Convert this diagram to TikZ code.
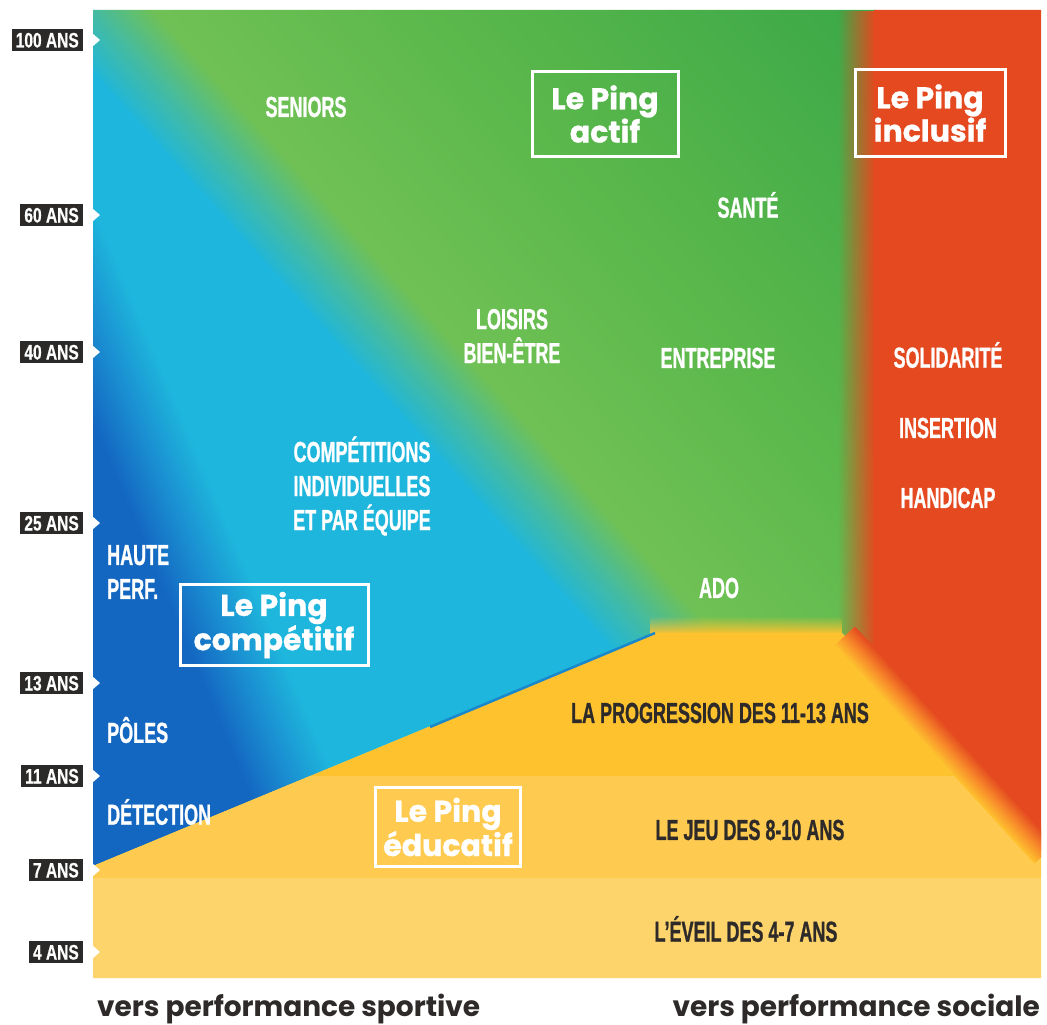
\documentclass[tikz,border=0pt]{standalone}
\usepackage{fontspec}
\usetikzlibrary{positioning,fadings}
\setmainfont{Liberation Sans}
\newfontfamily\tagfont[FakeStretch=0.62,FakeBold=0.8]{Liberation Sans}
\newfontfamily\agefont[FakeStretch=0.74,FakeBold=0.5]{Liberation Sans}
\newfontfamily\pingfont[FakeBold=0.8]{Poppins}
\newfontfamily\axisfont{Poppins}

\definecolor{pingcyan}{HTML}{1EB6DC}
\definecolor{pingblue}{HTML}{1467C1}
\definecolor{pingmidblue}{HTML}{1A8DD1}
\definecolor{pingteal}{HTML}{45BBA0}
\definecolor{pinglight}{HTML}{70C155}
\definecolor{pinggreen}{HTML}{5BB84B}
\definecolor{pingdark}{HTML}{3DA948}
\definecolor{pingred}{HTML}{E4491F}
\definecolor{pingorange}{HTML}{F7882A}
\definecolor{pingyellow}{HTML}{FEC22F}
\definecolor{pingjeu}{HTML}{FECB50}
\definecolor{pingeveil}{HTML}{FDD46B}
\definecolor{pingink}{HTML}{2D2A29}
\definecolor{pingtag}{HTML}{2B2A29}

% shadings across the two diagonals
\pgfdeclareverticalshading{actifshade}{100bp}{color(0bp)=(pingcyan); color(48.27bp)=(pingcyan); color(50bp)=(pingteal); color(51.73bp)=(pinglight); color(59.6bp)=(pinggreen); color(71.5bp)=(pingdark); color(100bp)=(pingdark)}
\pgfdeclareverticalshading{perfshade}{100bp}{color(0bp)=(pingblue); color(47.5bp)=(pingblue); color(50bp)=(pingmidblue); color(52.8bp)=(pingcyan); color(100bp)=(pingcyan)}
\tikzfading[name=redfade, left color=transparent!100, right color=transparent!0]
\tikzfading[name=yellowfade, top color=transparent!100, bottom color=transparent!0]

\begin{document}
\begin{tikzpicture}[x=1pt, y=-1pt,
  zonetext/.style={text=white, font=\tagfont\bfseries\fontsize{29pt}{34pt}\selectfont, inner sep=0pt, align=center},
  darktext/.style={zonetext, text=pingink},
  pingbox/.style={draw=white, line width=3pt, text=white, font=\pingfont\bfseries\fontsize{30pt}{28pt}\selectfont, align=center, inner sep=0pt},
  agetag/.style={fill=pingtag, text=white, font=\agefont\bfseries\fontsize{21pt}{21pt}\selectfont, text height=15pt, text depth=0pt, inner xsep=4pt, inner ysep=3.5pt, anchor=east},
  axistext/.style={text=pingink, font=\axisfont\bfseries\fontsize{28pt}{28pt}\selectfont, inner sep=0pt}]

\useasboundingbox (0,0) rectangle (1047,1025);
\fill[white] (0,0) rectangle (1047,1025);

% le Ping actif / competitif
\begin{scope}
  \clip (93,10) -- (876,10) -- (876,670) -- (842,633) -- (655,633) -- (93,866) -- cycle;
  \begin{scope}[transform canvas={shift={(93,10)}, rotate=-47.95}]
    \shade[shading=actifshade] (-60,-650) rectangle (1000,650);
  \end{scope}
  % haute perf
  \clip (93,70) -- (620,655) -- (620,900) -- (93,900) -- cycle;
  \begin{scope}[transform canvas={shift={(93,320)}, rotate=-67.12}]
    \shade[shading=perfshade] (-400,-400) rectangle (800,400);
  \end{scope}
\end{scope}

% le Ping inclusif
\fill[pingred] (874,10) -- (1041,10) -- (1041,850) -- (874,668) -- cycle;
\begin{scope}
  \clip (838,10) -- (875,10) -- (875,669) -- (842,633) -- (838,633) -- cycle;
  \fill[pingred, path fading=redfade] (838,10) rectangle (875,700);
\end{scope}

% le Ping educatif
\fill[pingyellow] (93,866) -- (655,633) -- (842,633) -- (1041,850) -- (1041,978) -- (93,978) -- cycle;
\begin{scope}
  \clip (93,866) -- (655,633) -- (842,633) -- (1041,850) -- (1041,978) -- (93,978) -- cycle;
  \fill[pingjeu] (93,776) rectangle (1041,878);
\end{scope}
\fill[pingyellow, path fading=yellowfade] (650,616) rectangle (842,634);
\begin{scope}
  \clip (93,10) rectangle (1041,978);
  \begin{scope}[transform canvas={shift={(842,633)}, rotate=-47.48}]
    \shade[top color=pingred, bottom color=pingyellow, middle color=pingorange] (4,-14) rectangle (300,14);
  \end{scope}
\end{scope}
\draw[pingblue!60!pingcyan, line width=2.5pt] (430,727) -- (655,633);
\fill[pingeveil] (93,878) rectangle (1041,978);

% ages
\foreach \y/\a in {40/100, 215/60, 352/40, 523/25, 683/13, 776/11, 870/7, 952/4}{
  \fill[white] (92,\y-7) -- (100,\y) -- (92,\y+7) -- cycle;
  \node[agetag] (age\a) at (83,\y) {\a~ANS};
}

% zones
\node[zonetext] (seniors) at (306,107) {SENIORS};
\node[zonetext] (sante) at (748,205) {SANTÉ};
\node[zonetext] (loisirs) at (512,336) {LOISIRS\\BIEN-ÊTRE};
\node[zonetext] (entreprise) at (718,358) {ENTREPRISE};
\node[zonetext] (solidarite) at (948,355) {SOLIDARITÉ};
\node[zonetext] (insertion) at (948,428) {INSERTION};
\node[zonetext] (handicap) at (948,498) {HANDICAP};
\node[zonetext] (competitions) at (362,486) {COMPÉTITIONS\\INDIVIDUELLES\\ET PAR ÉQUIPE};
\node[zonetext, align=left, anchor=west] (hauteperf) at (107,572) {HAUTE\\PERF.};
\node[zonetext] (ado) at (719,588) {ADO};
\node[zonetext, anchor=west] (poles) at (107,730) {PÔLES};
\node[zonetext, anchor=west] (detection) at (107,812) {DÉTECTION};
\node[darktext] (progression) at (720,713) {LA PROGRESSION DES 11-13 ANS};
\node[darktext] (jeu) at (750,830) {LE JEU DES 8-10 ANS};
\node[darktext] (eveil) at (746,929) {L’ÉVEIL DES 4-7 ANS};

% boxes
\node[pingbox, minimum width=146pt, minimum height=84pt] (actif) at (605,114) {Le Ping\\actif};
\node[pingbox, minimum width=150pt, minimum height=86pt] (inclusif) at (930,113) {Le Ping\\inclusif};
\node[pingbox, minimum width=188pt, minimum height=81pt] (competitif) at (274,625) {Le Ping\\compétitif};
\node[pingbox, minimum width=145pt, minimum height=79pt] (educatif) at (448,827) {Le Ping\\éducatif};

% axis
\node[axistext, anchor=base west] (sportive) at (97,1016) {vers performance sportive};
\node[axistext, anchor=base east] (sociale) at (1040,1016) {vers performance sociale};
\end{tikzpicture}
\end{document}
